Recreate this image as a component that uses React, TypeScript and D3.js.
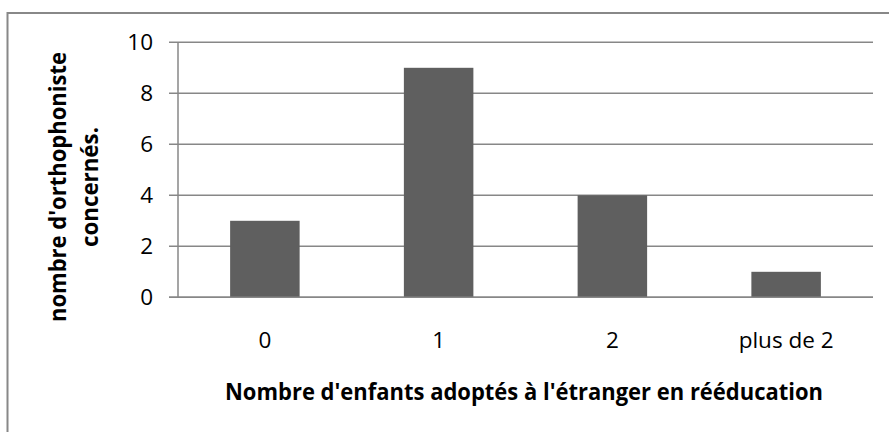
import React from "react";
import * as d3 from "d3";

const categories: string[] = ["0", "1", "2", "plus de 2"];
const values: number[] = [3, 9, 4, 1];
const yTicks: number[] = [0, 2, 4, 6, 8, 10];
const xTitle = "Nombre d'enfants adoptés à l'étranger en rééducation";
const yTitleLines: string[] = ["nombre d'orthophoniste", "concernés."];

const W = 889;
const H = 432;
const plotLeft = 178;
const plotRight = 873;
const plotTop = 42.3;
const plotBottom = 297.3;
const font = "'Open Sans', 'DejaVu Sans', sans-serif";
const gridColor = "#878787";
const barColor = "#5f5f5f";

export default function App() {
  const x = d3
    .scaleBand<string>()
    .domain(categories)
    .range([plotLeft, plotRight])
    .paddingInner(0.6)
    .paddingOuter(0.3);
  const y = d3.scaleLinear().domain([0, 10]).range([plotBottom, plotTop]);
  const yCenter = 187;

  return (
    <svg
      width={W}
      height={H}
      style={{ position: "fixed", left: 0, top: 0, background: "#fff" }}
    >
      <rect x={0} y={0} width={W} height={H} fill="#fff" />
      <rect
        x={7.5}
        y={13}
        width={W + 20}
        height={H + 20}
        fill="none"
        stroke="#888"
        strokeWidth={2}
      />
      {yTicks.map((t) => (
        <g key={t}>
          <line
            x1={169}
            x2={plotRight}
            y1={y(t)}
            y2={y(t)}
            stroke={gridColor}
            strokeWidth={1.5}
          />
          <text
            x={153}
            y={y(t) + 7.8}
            textAnchor="end"
            fontFamily={font}
            fontSize={22.5}
            fill="#000"
          >
            {t}
          </text>
        </g>
      ))}
      <line
        x1={plotLeft}
        x2={plotLeft}
        y1={plotTop}
        y2={plotBottom}
        stroke={gridColor}
        strokeWidth={1.5}
      />
      {categories.map((c, i) => (
        <rect
          key={c}
          x={x(c)}
          y={y(values[i])}
          width={x.bandwidth()}
          height={y(0) - y(values[i])}
          fill={barColor}
        />
      ))}
      <line
        x1={169}
        x2={plotRight}
        y1={plotBottom}
        y2={plotBottom}
        stroke={gridColor}
        strokeWidth={1.5}
      />
      {categories.map((c) => (
        <text
          key={c}
          x={(x(c) as number) + x.bandwidth() / 2}
          y={348}
          textAnchor="middle"
          fontFamily={font}
          fontSize={22.5}
          fill="#000"
        >
          {c}
        </text>
      ))}
      <text
        x={524}
        y={400}
        textAnchor="middle"
        fontFamily={font}
        fontWeight="bold"
        fontSize={23.5}
        textLength={598}
        lengthAdjust="spacingAndGlyphs"
        fill="#000"
      >
        {xTitle}
      </text>
      {yTitleLines.map((line, i) => (
        <text
          key={line}
          transform={`translate(${66 + i * 32}, ${yCenter}) rotate(-90)`}
          textAnchor="middle"
          fontFamily={font}
          fontWeight="bold"
          fontSize={23.5}
          textLength={i === 0 ? 270 : 120}
          lengthAdjust="spacingAndGlyphs"
          fill="#000"
        >
          {line}
        </text>
      ))}
    </svg>
  );
}
